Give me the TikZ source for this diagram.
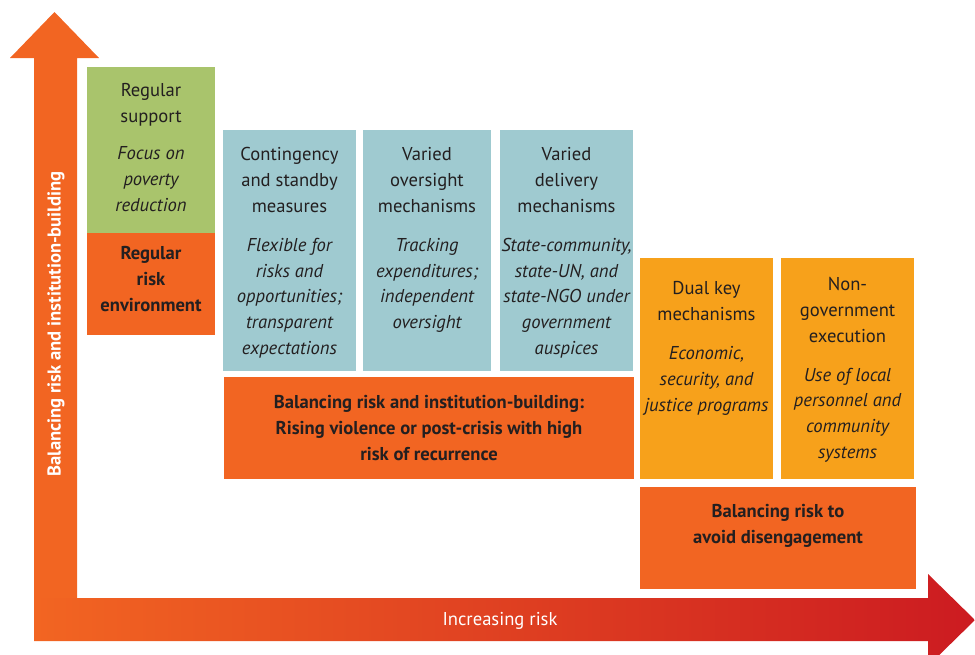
\documentclass[tikz,border=0pt]{standalone}
\usepackage{fontspec}
\setmainfont{PT Sans}
\usetikzlibrary{positioning,fit}

\definecolor{riskorange}{HTML}{F26522}
\definecolor{riskred}{HTML}{CC1B21}
\definecolor{supgreen}{HTML}{A9C46C}
\definecolor{mechblue}{HTML}{9FCAD0}
\definecolor{dualamber}{HTML}{F7A11B}
\definecolor{ink}{HTML}{231F20}

\tikzset{
  panel/.style={inner sep=0pt, outer sep=0pt, draw=none},
  head/.style={align=center, anchor=base, inner sep=0pt, text=ink,
    font=\fontsize{9.3}{12.8}\selectfont},
  note/.style={head, font=\fontsize{9.3}{12.8}\selectfont\itshape},
  strong/.style={head, font=\fontsize{9.3}{12.8}\selectfont\bfseries},
  axislabel/.style={text=white, inner sep=0pt, font=\fontsize{9.3}{10}\selectfont},
}

\begin{document}
\begin{tikzpicture}[x=0.5pt, y=-0.5pt]
    \useasboundingbox (0,0) rectangle (975,654);
    \clip (0,0) rectangle (975,654);
    % axes
    \fill[riskorange] (34,599) -- (34,58) -- (10,58) -- (54.5,12) -- (99,58) -- (77,58) -- (77,599) -- cycle;
    \shade[left color=riskorange, right color=riskred]
      (34,598) -- (928,598) -- (928,574) -- (975,620) -- (928,666) -- (928,641) -- (34,641) -- cycle;
    \node[axislabel, font=\fontsize{9.3}{10}\selectfont\bfseries, rotate=90] (ylabel) at (56,324) {Balancing risk and institution-building};
    \node[axislabel] (xlabel) at (500,621) {Increasing risk};

    % panels
    \node[panel, fill=supgreen, fit={(87,67) (215,233)}] (support) {};
    \node[panel, fill=riskorange, fit={(87,233) (215,335)}] (regular) {};
    \node[panel, fill=mechblue, fit={(223,130) (356,371)}] (contingency) {};
    \node[panel, fill=mechblue, fit={(363,130) (491,371)}] (oversight) {};
    \node[panel, fill=mechblue, fit={(500,130) (633,371)}] (delivery) {};
    \node[panel, fill=riskorange, fit={(224,377) (634,479)}] (rising) {};
    \node[panel, fill=dualamber, fit={(640,258) (773,479)}] (dualkey) {};
    \node[panel, fill=dualamber, fit={(781,258) (914,479)}] (nongov) {};
    \node[panel, fill=riskorange, fit={(640,487) (916,589)}] (disengage) {};

    % texts (placed by the baseline of their last line)
    \node[head] (supporthd) at (151,122) {Regular\\support};
    \node[note] (supportnt) at (151,211) {Focus on\\poverty\\reduction};
    \node[strong] (regularhd) at (151,311) {Regular\\risk\\environment};
    \node[head] (contingencyhd) at (289.5,212) {Contingency\\and standby\\measures};
    \node[note] (contingencynt) at (289.5,354) {Flexible for\\risks and\\opportunities;\\transparent\\expectations};
    \node[head] (oversighthd) at (427,212) {Varied\\oversight\\mechanisms};
    \node[note] (oversightnt) at (427,328.5) {Tracking\\expenditures;\\independent\\oversight};
    \node[head] (deliveryhd) at (566.5,212) {Varied\\delivery\\mechanisms};
    \node[note] (deliverynt) at (566.5,354) {State-community,\\state-UN, and\\state-NGO under\\government\\auspices};
    \node[strong] (risinghd) at (429,460) {Balancing risk and institution-building:\\Rising violence or post-crisis with high\\risk of recurrence};
    \node[head] (dualkeyhd) at (706.5,320) {Dual key\\mechanisms};
    \node[note] (dualkeynt) at (706.5,411) {Economic,\\security, and\\justice programs};
    \node[head] (nongovhd) at (847.5,342) {Non-\\government\\execution};
    \node[note] (nongovnt) at (847.5,458) {Use of local\\personnel and\\community\\systems};
    \node[strong] (disengagehd) at (778,543) {Balancing risk to\\avoid disengagement};
\end{tikzpicture}
\end{document}
